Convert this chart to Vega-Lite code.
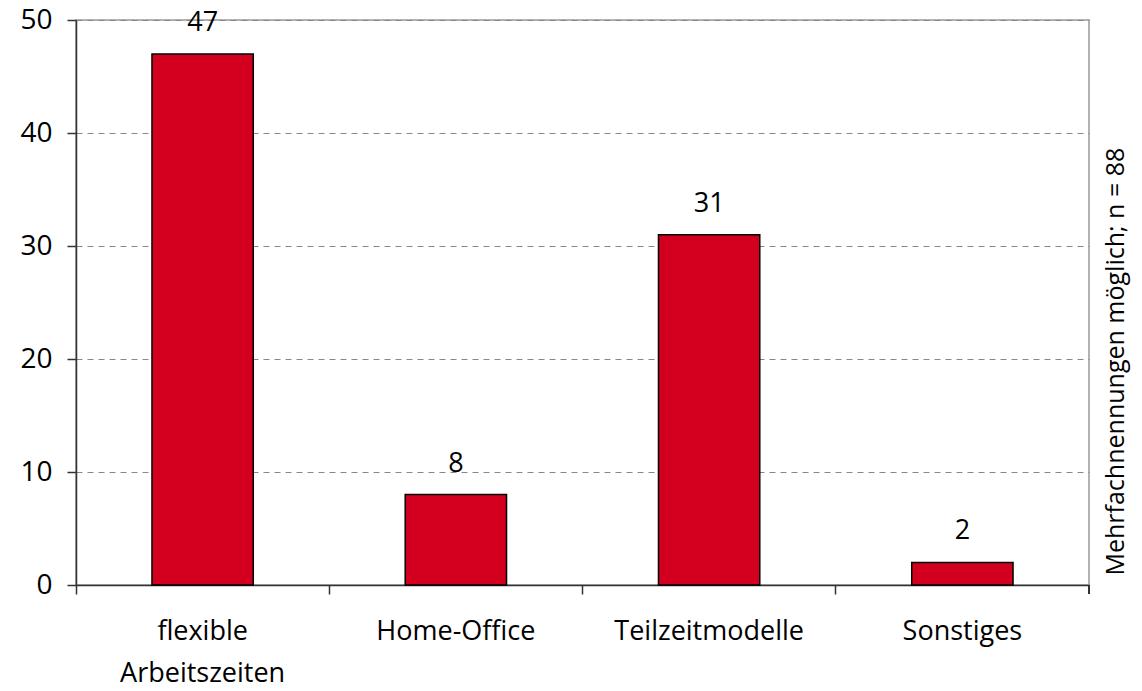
{
  "$schema": "https://vega.github.io/schema/vega-lite/v6.json",
  "width": 1013,
  "height": 565,
  "autosize": "none",
  "padding": {"left": 76, "top": 20, "right": 53, "bottom": 106},
  "background": "white",
  "config": {
    "font": "Open Sans",
    "view": {"stroke": "#999999", "strokeWidth": 1.5},
    "axis": {"labelFont": "Open Sans", "titleFont": "Open Sans"}
  },
  "data": {
    "values": [
      {"kategorie": "flexible\nArbeitszeiten", "wert": 47},
      {"kategorie": "Home-Office", "wert": 8},
      {"kategorie": "Teilzeitmodelle", "wert": 31},
      {"kategorie": "Sonstiges", "wert": 2}
    ]
  },
  "resolve": {"axis": {"x": "independent", "y": "independent"}},
  "layer": [
    {
      "mark": {"type": "bar", "color": "#D2001E", "stroke": "black", "strokeWidth": 1.5},
      "encoding": {
        "x": {
          "field": "kategorie",
          "type": "nominal",
          "sort": null,
          "scale": {"paddingInner": 0.6, "paddingOuter": 0.3},
          "axis": {
            "orient": "bottom",
            "title": null,
            "labelAngle": 0,
            "labelFontSize": 27,
            "labelColor": "black",
            "labelPadding": 33,
            "labelLineHeight": 42,
            "labelLimit": 0,
            "labelExpr": "split(datum.label, '\\n')",
            "ticks": false,
            "domain": false
          }
        },
        "y": {
          "field": "wert",
          "type": "quantitative",
          "scale": {"domain": [0, 50], "nice": false},
          "axis": {
            "values": [0, 10, 20, 30, 40, 50],
            "title": null,
            "labelFontSize": 28,
            "labelColor": "black",
            "labelPadding": 15,
            "tickSize": 9,
            "tickColor": "#333333",
            "domainColor": "#333333",
            "domainWidth": 1.5,
            "tickWidth": 1.5,
            "grid": true,
            "gridDash": [6, 5],
            "gridColor": "#888888",
            "gridWidth": 1
          }
        }
      }
    },
    {
      "mark": {"type": "text", "baseline": "bottom", "dy": -17, "fontSize": 27, "color": "black"},
      "encoding": {
        "x": {"field": "kategorie", "type": "nominal", "sort": null, "axis": null},
        "y": {"field": "wert", "type": "quantitative", "axis": null},
        "text": {"field": "wert", "type": "quantitative"}
      }
    },
    {
      "mark": {"type": "rule", "opacity": 0},
      "encoding": {
        "x": {
          "field": "kategorie",
          "type": "nominal",
          "sort": null,
          "axis": {
            "orient": "bottom",
            "title": null,
            "labels": false,
            "bandPosition": -0.75,
            "tickSize": 9,
            "tickWidth": 1.5,
            "tickColor": "#333333",
            "domainColor": "#333333",
            "domainWidth": 1.5
          }
        },
        "y": {
          "field": "wert",
          "type": "quantitative",
          "axis": {
            "orient": "right",
            "labels": false,
            "ticks": false,
            "domain": false,
            "grid": false,
            "title": "Mehrfachnennungen möglich; n = 88",
            "titleFontSize": 25,
            "titleFontWeight": "normal",
            "titleColor": "black",
            "titleAngle": 270,
            "titleAnchor": "start",
            "titleAlign": "left",
            "titleBaseline": "middle",
            "titleX": 26,
            "titleY": 555,
            "titleLimit": 0
          }
        }
      }
    },
    {
      "mark": {"type": "rule", "color": "#333333", "strokeWidth": 1.5, "clip": false},
      "encoding": {
        "x": {"datum": "Sonstiges", "bandPosition": 1.75, "axis": null},
        "y": {"datum": 0, "axis": null},
        "y2": {"datum": -0.8}
      }
    }
  ]
}
